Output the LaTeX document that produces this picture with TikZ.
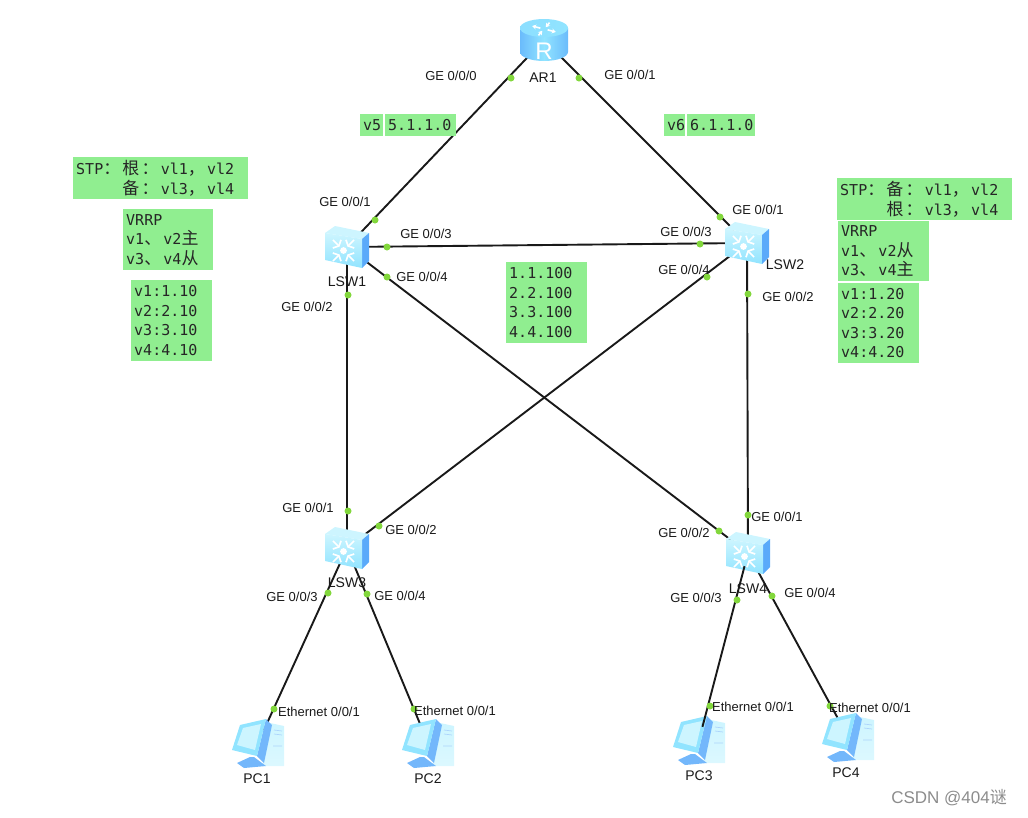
\documentclass[tikz,border=0pt]{standalone}
\usepackage{fontspec}
\setmainfont{Liberation Sans}
\setmonofont{DejaVu Sans Mono}
\newfontfamily\cjk[Scale=1.13]{Noto Sans CJK SC}
\newfontfamily\cjkmark{Noto Sans CJK SC}
\usepackage{xcolor}
\usetikzlibrary{arrows.meta}
\definecolor{mygreen}{RGB}{144, 238, 144}
\definecolor{mydot}{RGB}{130, 215, 60}
\definecolor{myblue}{RGB}{90, 170, 250}
\definecolor{mysky}{RGB}{145, 228, 255}
\definecolor{mypale}{RGB}{205, 245, 255}
\newcommand{\zh}[1]{\makebox[19.2pt][l]{\cjk #1}}
\tikzset{
  device/.style={minimum size=26pt, inner sep=0pt},
  link/.style={draw=black!90, line width=1.9pt},
  portdot/.style={circle, fill=mydot, minimum size=7pt, inner sep=0pt},
  portlabel/.style={font=\fontsize{13}{14}\selectfont, text=black!90, inner sep=0pt},
  devlabel/.style={font=\fontsize{14}{16}\selectfont, text=black!90, inner sep=0pt},
  greenbox/.style 2 args={anchor=north west, fill=mygreen, inner xsep=3pt, inner ysep=0pt,
    text width=#1, minimum height=#2, align=left, text=black!85,
    font=\ttfamily\fontsize{15}{19.5}\selectfont},
  switchicon/.pic={
    \fill[mypale] (-22,-14) -- (-12,-21) -- (22,-14) -- (15,-8) -- cycle;
    \fill[myblue] (15,-8) -- (22,-14) -- (22,14) -- (15,21) -- cycle;
    \shade[top color=mypale, bottom color=mysky] (-22,-14) -- (15,-8) -- (15,21) -- (-22,13) -- cycle;
    \begin{scope}[shift={(-3.5,3.5)}]
      \fill[white] (0,0) circle (3.4);
      \foreach \a in {45,135,225,315} {
        \draw[white, line width=1.7pt] (\a:6.5) -- (\a:15);
        \draw[white, line width=1.7pt] (\a+32:11) -- (\a:6.5) -- (\a-32:11);
      }
    \end{scope}
  },
  routericon/.pic={
    \shade[left color=myblue!70!mysky, right color=myblue!70!mysky, middle color=mysky]
      (-24,-12) -- (-24,12) arc[start angle=180, end angle=360, x radius=24, y radius=-9]
      -- (24,-12) -- cycle;
    \shade[left color=mysky!90!myblue, right color=mysky] (0,-12) ellipse[x radius=24, y radius=9];
    \begin{scope}[shift={(0,-11)}]
      \foreach \a in {25,205} {
        \draw[white, line width=1.6pt, -{Stealth[length=4pt, width=5pt]}] (\a:4 and 2) -- (\a:13 and 7);
      }
      \foreach \a in {115,295} {
        \draw[white, line width=1.6pt, -{Stealth[length=4pt, width=5pt]}] (\a:13 and 7) -- (\a:4 and 2);
      }
    \end{scope}
    \node[text=white, font=\fontsize{24}{24}\selectfont, inner sep=0pt] (rmark) at (0,11) {R};
  },
  pcicon/.pic={
    \shade[top color=mypale, bottom color=mypale!70!white] (12,-20) -- (26,-17) -- (26,23) -- (5,23) -- cycle;
    \draw[myblue!50, line width=0.7pt] (16,-13) -- (24,-12) (16,-9) -- (24,-8) (15,3) -- (24,3);
    \fill[myblue!85] (8,-24) -- (14,-18) -- (6,20) -- (-1,13) -- cycle;
    \fill[mysky] (-26,7) -- (-18,-18) -- (8,-24) -- (-1,13) -- cycle;
    \fill[mypale] (-21,2) -- (-15,-15) -- (3,-19) -- (-3,7) -- cycle;
    \fill[myblue!85] (-21,20) -- (-8,14) -- (-4,14) -- (8,23) -- (-14,25) -- cycle;
  }
}

\begin{document}
\begin{tikzpicture}[x=1pt, y=-1pt]
  \useasboundingbox (0,0) rectangle (1028,817);

  % Devices
  \node[device] (AR1) at (544,40) {};
  \node[device] (LSW1) at (347,247) {};
  \node[device] (LSW2) at (747,243) {};
  \node[device] (LSW3) at (347,548) {};
  \node[device] (LSW4) at (748,553) {};
  \node[device] (PC1) at (258,743) {};
  \node[device] (PC2) at (428,743) {};
  \node[device] (PC3) at (699,740) {};
  \node[device] (PC4) at (848,737) {};

  % Links
  \draw[link] (AR1) -- (LSW1);
  \draw[link] (AR1) -- (LSW2);
  \draw[link] (LSW1) -- (LSW2);
  \draw[link] (LSW1) -- (LSW3);
  \draw[link] (LSW2) -- (LSW4);
  \draw[link] (LSW1) -- (LSW4);
  \draw[link] (LSW2) -- (LSW3);
  \draw[link] (LSW3) -- (PC1);
  \draw[link] (LSW3) -- (PC2);
  \draw[link] (LSW4) -- (PC4);

  % Icons
  \pic at (AR1) {routericon};
  \pic at (LSW1) {switchicon};
  \pic at (LSW2) {switchicon};
  \pic at (LSW3) {switchicon};
  \pic at (LSW4) {switchicon};
  \pic at (PC1) {pcicon};
  \pic at (PC2) {pcicon};
  \pic at (PC3) {pcicon};
  \pic at (PC4) {pcicon};

  % This one runs over the screen
  \draw[link] (LSW4) -- (PC3);

  % Port dots
  \node[portdot] (r1a) at (511,78) {};
  \node[portdot] (r1b) at (579,78) {};
  \node[portdot] (s1a) at (375,220) {};
  \node[portdot] (s1b) at (387,247) {};
  \node[portdot] (s1c) at (387,277) {};
  \node[portdot] (s1d) at (348,295) {};
  \node[portdot] (s2a) at (720,217) {};
  \node[portdot] (s2b) at (700,244) {};
  \node[portdot] (s2c) at (707,277) {};
  \node[portdot] (s2d) at (748,294) {};
  \node[portdot] (s3a) at (348,511) {};
  \node[portdot] (s3b) at (379,526) {};
  \node[portdot] (s3c) at (328,593) {};
  \node[portdot] (s3d) at (367,594) {};
  \node[portdot] (s4a) at (748,515) {};
  \node[portdot] (s4b) at (719,531) {};
  \node[portdot] (s4c) at (737,600) {};
  \node[portdot] (s4d) at (772,596) {};
  \node[portdot] (p1a) at (274,709) {};
  \node[portdot] (p2a) at (414,709) {};
  \node[portdot] (p3a) at (710,706) {};
  \node[portdot] (p4a) at (830,706) {};

  % Port labels
  \node[portlabel] (tr1a) at (451,76) {GE 0/0/0};
  \node[portlabel] (tr1b) at (630,75) {GE 0/0/1};
  \node[portlabel] (ts1a) at (345,202) {GE 0/0/1};
  \node[portlabel] (ts1b) at (426,234) {GE 0/0/3};
  \node[portlabel] (ts1c) at (422,277) {GE 0/0/4};
  \node[portlabel] (ts1d) at (307,307) {GE 0/0/2};
  \node[portlabel] (ts2a) at (758,210) {GE 0/0/1};
  \node[portlabel] (ts2b) at (686,232) {GE 0/0/3};
  \node[portlabel] (ts2c) at (684,270) {GE 0/0/4};
  \node[portlabel] (ts2d) at (788,297) {GE 0/0/2};
  \node[portlabel] (ts3a) at (308,508) {GE 0/0/1};
  \node[portlabel] (ts3b) at (411,530) {GE 0/0/2};
  \node[portlabel] (ts3c) at (292,597) {GE 0/0/3};
  \node[portlabel] (ts3d) at (400,596) {GE 0/0/4};
  \node[portlabel] (ts4a) at (777,517) {GE 0/0/1};
  \node[portlabel] (ts4b) at (684,533) {GE 0/0/2};
  \node[portlabel] (ts4c) at (696,598) {GE 0/0/3};
  \node[portlabel] (ts4d) at (810,593) {GE 0/0/4};
  \node[portlabel] (tp1a) at (319,712) {Ethernet 0/0/1};
  \node[portlabel] (tp2a) at (455,711) {Ethernet 0/0/1};
  \node[portlabel] (tp3a) at (753,707) {Ethernet 0/0/1};
  \node[portlabel] (tp4a) at (870,708) {Ethernet 0/0/1};

  % Device labels
  \node[devlabel] (tAR1) at (543,78) {AR1};
  \node[devlabel] (tLSW1) at (347,282) {LSW1};
  \node[devlabel] (tLSW2) at (785,265) {LSW2};
  \node[devlabel] (tLSW3) at (347,583) {LSW3};
  \node[devlabel] (tLSW4) at (748,589) {LSW4};
  \node[devlabel] (tPC1) at (257,779) {PC1};
  \node[devlabel] (tPC2) at (428,779) {PC2};
  \node[devlabel] (tPC3) at (699,776) {PC3};
  \node[devlabel] (tPC4) at (846,773) {PC4};

  % Green notes
  \node[greenbox={17pt}{22pt}] (v5) at (360,114) {v5};
  \node[greenbox={65pt}{22pt}] (v5net) at (385,114) {5.1.1.0};
  \node[greenbox={15pt}{22pt}] (v6) at (664,114) {v6};
  \node[greenbox={62pt}{22pt}] (v6net) at (687,114) {6.1.1.0};
  \node[greenbox={169pt}{42pt}] (stpleft) at (73,157)
    {STP\zh{：}\zh{根}\zh{：}vl1\zh{，}vl2\\\phantom{STP\zh{：}}\zh{备}\zh{：}vl3\zh{，}vl4};
  \node[greenbox={84pt}{61pt}] (vrrpleft) at (123,209)
    {VRRP\\v1\zh{、}v2\zh{主}\\v3\zh{、}v4\zh{从}};
  \node[greenbox={75pt}{81pt}] (ipleft) at (131,280)
    {v1:1.10\\v2:2.10\\v3:3.10\\v4:4.10};
  \node[greenbox={75pt}{81pt}] (ipvirt) at (506,262)
    {1.1.100\\2.2.100\\3.3.100\\4.4.100};
  \node[greenbox={169pt}{42pt}] (stpright) at (837,178)
    {STP\zh{：}\zh{备}\zh{：}vl1\zh{，}vl2\\\phantom{STP\zh{：}}\zh{根}\zh{：}vl3\zh{，}vl4};
  \node[greenbox={85pt}{60pt}] (vrrpright) at (838,221)
    {VRRP\\v1\zh{、}v2\zh{从}\\v3\zh{、}v4\zh{主}};
  \node[greenbox={75pt}{80pt}] (ipright) at (838,283)
    {v1:1.20\\v2:2.20\\v3:3.20\\v4:4.20};

  % Watermark
  \node[text=black!45, inner sep=0pt, font=\fontsize{17}{19}\selectfont] (mark) at (949,798)
    {CSDN @404{\cjkmark 谜}};
\end{tikzpicture}
\end{document}
